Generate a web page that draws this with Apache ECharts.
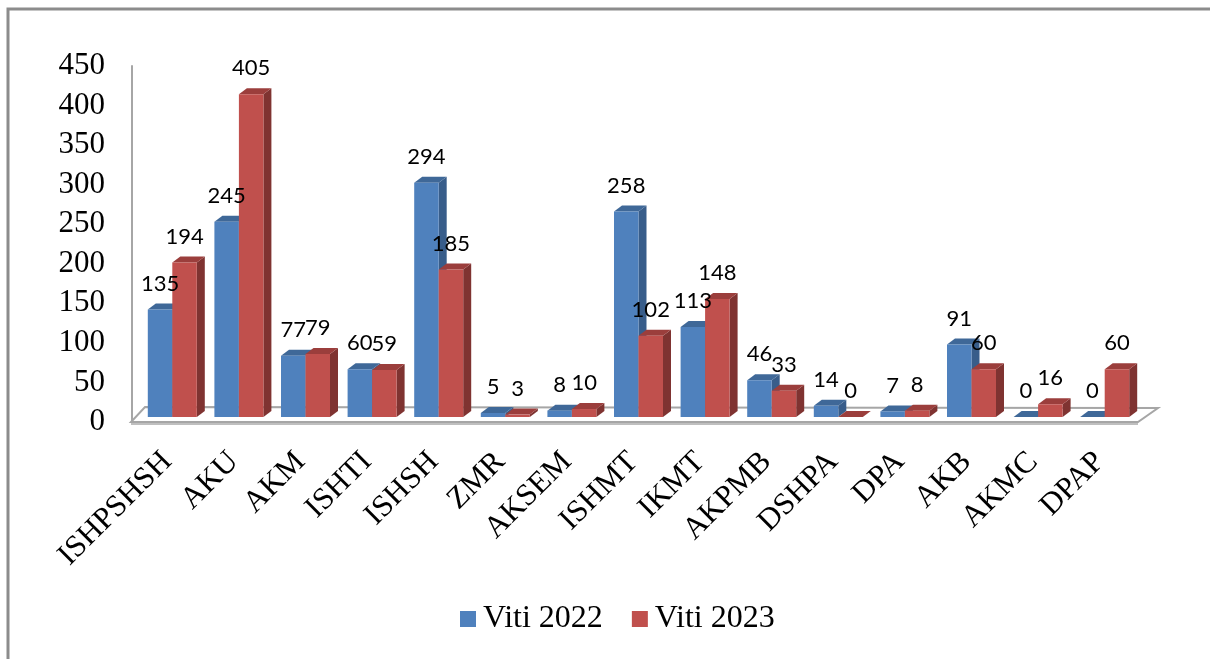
<!DOCTYPE html>
<html>
<head>
<meta charset="utf-8">
<script src="https://cdn.jsdelivr.net/npm/echarts@6/dist/echarts.min.js"></script>
<style>html,body{margin:0;padding:0;background:#fff}#c{width:1210px;height:659px}</style>
</head>
<body>
<div id="c"></div>
<script>
var categories = ['ISHPSHSH','AKU','AKM','ISHTI','ISHSH','ZMR','AKSEM','ISHMT','IKMT','AKPMB','DSHPA','DPA','AKB','AKMC','DPAP'];
var viti2022 = [135,245,77,60,294,5,8,258,113,46,14,7,91,0,0];
var viti2023 = [194,405,79,59,185,3,10,102,148,33,0,8,60,16,60];
var yTicks = [0,50,100,150,200,250,300,350,400,450];

var SERIF = '"Liberation Serif","Times New Roman",serif';
var BAR_W = 24.5, DX = 8, DY = 6;

function barX(api, cat, offsetIdx) {
  var base = api.coord([cat, 0]);
  return base[0] + (offsetIdx === 0 ? -BAR_W : 0);
}

function makeRender(colors, offsetIdx) {
  return function (params, api) {
    var cat = api.value(0), val = api.value(1);
    var base = api.coord([cat, 0]);
    var top = api.coord([cat, val]);
    var x0 = barX(api, cat, offsetIdx);
    var x1 = x0 + BAR_W;
    var yb = base[1], yt = top[1];
    return {
      type: 'group',
      children: [
        {type:'polygon', shape:{points:[[x1,yb],[x1+DX,yb-DY],[x1+DX,yt-DY],[x1,yt]]}, style:{fill:colors[1]}},
        {type:'polygon', shape:{points:[[x0,yt],[x0+DX,yt-DY],[x1+DX,yt-DY],[x1,yt]]}, style:{fill:colors[2]}},
        {type:'rect', shape:{x:x0, y:yt, width:BAR_W, height:yb-yt}, style:{fill:colors[0]}}
      ]
    };
  };
}

function makeLabel(offsetIdx) {
  return function (params, api) {
    var cat = api.value(0), val = api.value(1);
    var top = api.coord([cat, val]);
    var x0 = barX(api, cat, offsetIdx);
    return {type:'text', style:{text:String(val), x:x0 + BAR_W/2, y:top[1]-26, align:'center', verticalAlign:'middle',
      font:'22px Lato, "Open Sans", sans-serif', fill:'#000'}};
  };
}

function toData(arr){ return arr.map(function(v,i){ return [i, v]; }); }

var chart = echarts.init(document.getElementById('c'));
var option = {
  animation: false,
  backgroundColor: '#fff',
  grid: [
    {left: 139, width: 999, top: 58.5, bottom: 242},
    {left: 132, width: 999, top: 66, bottom: 237},
    {left: 134, width: 999, top: 58.5, bottom: 242}
  ],
  xAxis: [
    {type:'category', data: categories, gridIndex:0, axisLine:{show:false}, axisTick:{show:false}, axisLabel:{show:false}},
    {type:'category', data: categories, gridIndex:1, show:false},
    {type:'category', data: categories, gridIndex:2, axisLine:{show:false}, axisTick:{show:false},
      axisLabel:{rotate:45, interval:0, margin:40, fontFamily:SERIF, fontSize:31, color:'#000'}}
  ],
  yAxis: [
    {type:'value', min:0, max:450, gridIndex:0, show:false},
    {type:'value', min:yTicks[0], max:yTicks[yTicks.length-1], interval:50, gridIndex:1,
      axisLine:{show:true, lineStyle:{color:'#a6a6a6', width:2}}, axisTick:{show:false}, splitLine:{show:false},
      axisLabel:{margin:27, fontFamily:SERIF, fontSize:31, color:'#000'}},
    {type:'value', min:0, max:450, gridIndex:2, show:false}
  ],
  legend: {
    left: 460, top: 603, padding: 0, icon:'rect', itemWidth:16, itemHeight:16, itemGap:29,
    textStyle:{fontFamily:SERIF, fontSize:32, color:'#000', padding:[0,0,0,2]},
    data: [{name:'Viti 2022', itemStyle:{color:'#4F81BD'}}, {name:'Viti 2023', itemStyle:{color:'#C0504D'}}]
  },
  series: [
    {name:'Viti 2022', type:'custom', xAxisIndex:0, yAxisIndex:0, data: toData(viti2022),
      itemStyle:{color:'#4F81BD'}, renderItem: makeRender(['#4F81BD','#385D8A','#3F6898'], 0), z:3},
    {name:'Viti 2023', type:'custom', xAxisIndex:0, yAxisIndex:0, data: toData(viti2023),
      itemStyle:{color:'#C0504D'}, renderItem: makeRender(['#C0504D','#7F3331','#9B3E3C'], 1), z:3},
    {name:'lbl2022', type:'custom', xAxisIndex:0, yAxisIndex:0, data: toData(viti2022), renderItem: makeLabel(0), z:5, silent:true},
    {name:'lbl2023', type:'custom', xAxisIndex:0, yAxisIndex:0, data: toData(viti2023), renderItem: makeLabel(1), z:5, silent:true}
  ]
};
chart.setOption(option);

var fl = chart.convertToPixel({xAxisIndex:0, yAxisIndex:0}, [0, 0]);
var gl = 139, gr = 139 + 999, zy = fl[1];
chart.setOption({
  graphic: [
    {type:'polyline', z:0, shape:{points:[[8,665],[8,9],[1215,9]]}, style:{stroke:'#8c8c8c', lineWidth:3, fill:null}},
    {type:'polygon', z:0, shape:{points:[[gl-8, zy+5],[gr, zy+5],[gr+20, zy-9],[gl+6, zy-10]]},
      style:{fill:'#fff', stroke:'#a6a6a6', lineWidth:2}},
    {type:'line', z:0, shape:{x1:gl-8, y1:zy+7, x2:gr, y2:zy+7}, style:{stroke:'#bfbfbf', lineWidth:2}}
  ]
});
</script>
</body>
</html>
